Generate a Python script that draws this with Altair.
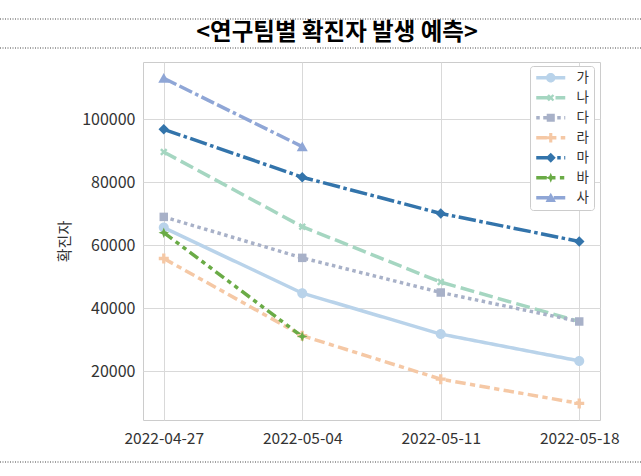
import altair as alt
import pandas as pd
import math

dates = ["2022-04-27", "2022-05-04", "2022-05-11", "2022-05-18"]
day_offsets = [0, 7, 14, 21]
teams = ["가", "나", "다", "라", "마", "바", "사"]
values = {
    "가": [65600, 44800, 31800, 23300],
    "나": [89600, 65900, 48300, 35800],
    "다": [69000, 56000, 45000, 35800],
    "라": [55800, 31300, 17500, 9800],
    "마": [96800, 81600, 70100, 61200],
    "바": [64000, 31000, None, None],
    "사": [113000, 91300, None, None],
}
colors = ["#b9d3ea", "#a5d6c1", "#a8b1c8", "#f5c8a5", "#3374ab", "#6aab46", "#8fa6d6"]
lw = 3.5
base_dashes = [[1, 0], [4, 1.5], [1, 1], [3, 1.25, 1.5, 1.25], [5, 1, 1, 1],
               [3, 1.25, 1.25, 1.25, 1.25, 1.25], [4, 1, 4, 1, 1, 1]]
dashes = [[d * lw for d in ds] for ds in base_dashes]

marker_paths = [
    "M-1,0A1,1,0,1,1,1,0A1,1,0,1,1,-1,0Z",
    "M-0.4,-0.75L0,-0.35L0.4,-0.75L0.75,-0.4L0.35,0L0.75,0.4L0.4,0.75L0,0.35L-0.4,0.75L-0.75,0.4L-0.35,0L-0.75,-0.4Z",
    "M-0.85,-0.85H0.85V0.85H-0.85Z",
    "M-0.33,-1H0.33V-0.33H1V0.33H0.33V1H-0.33V0.33H-1V-0.33H-0.33Z",
    "M0,-1.05L1.05,0L0,1.05L-1.05,0Z",
    "M0,-1.05L0.3,-0.3L1.05,0L0.3,0.3L0,1.05L-0.3,0.3L-1.05,0L-0.3,-0.3Z",
    "M0,-1.05L1.1,0.9H-1.1Z",
]

# legend symbols: a short dashed line segment plus the marker (unit = sqrt(size)/2 px)
leg_size = 90
unit = math.sqrt(leg_size) / 2
half_len = 14.5 / unit
half_w = (lw / 2) / unit


def line_path(pattern, solid):
    if solid:
        return f"M{-half_len:.3f},{-half_w:.3f}H{half_len:.3f}V{half_w:.3f}H{-half_len:.3f}Z"
    parts = []
    x = -half_len
    i = 0
    pat = [p / unit for p in pattern]
    while x < half_len:
        seg = pat[i % len(pat)]
        if i % 2 == 0:
            x2 = min(x + seg, half_len)
            parts.append(f"M{x:.3f},{-half_w:.3f}H{x2:.3f}V{half_w:.3f}H{x:.3f}Z")
        x += seg
        i += 1
    return "".join(parts)


legend_paths = [line_path(ds, ds[1] == 0) + mp for ds, mp in zip(dashes, marker_paths)]

rows = []
for t in teams:
    for d, off, v in zip(dates, day_offsets, values[t]):
        if v is not None:
            rows.append({"team": t, "date": d, "day": off, "cases": v})
df = pd.DataFrame(rows)

label_expr = "[" + ",".join(f"'{d}'" for d in dates) + "][datum.value/7]"
xenc = alt.X("day:Q", scale=alt.Scale(domain=[-1.05, 22.05], nice=False, zero=False),
             axis=alt.Axis(values=day_offsets, labelExpr=label_expr, title=None,
                           grid=True, ticks=False, domain=False, labelPadding=11))
yenc = alt.Y("cases:Q", scale=alt.Scale(domain=[4535, 118165], nice=False, zero=False),
             axis=alt.Axis(values=[20000, 40000, 60000, 80000, 100000], format="d",
                           title="확진자", titlePadding=9, grid=True, ticks=False,
                           domain=False, labelPadding=8, labelFontSize=16))
cscale = alt.Scale(domain=teams, range=colors)

legend = alt.Legend(
    orient="none", legendX=387, legendY=4, fillColor="white", strokeColor="#cccccc",
    cornerRadius=3, padding=5, labelFontSize=13.5, labelColor="#333333",
    symbolSize=leg_size, rowPadding=5, symbolOffset=9, labelOffset=19,
    symbolOpacity=1, symbolStrokeWidth=0,
)

lines = alt.Chart(df).mark_line(strokeWidth=lw).encode(
    x=xenc, y=yenc,
    color=alt.Color("team:N", scale=cscale, title=None, legend=legend),
    strokeDash=alt.StrokeDash("team:N", scale=alt.Scale(domain=teams, range=dashes), legend=None),
    detail="team:N",
)

legend_src = alt.Chart(df).mark_point(filled=True, opacity=0).encode(
    x=xenc, y=yenc,
    color=alt.Color("team:N", scale=cscale, title=None, legend=legend),
    shape=alt.Shape("team:N", scale=alt.Scale(domain=teams, range=legend_paths),
                    title=None, legend=legend),
)

point_layers = []
for t, mp in zip(teams, marker_paths):
    point_layers.append(
        alt.Chart(df).transform_filter(alt.datum.team == t).mark_point(
            filled=True, size=100, opacity=1, shape=mp).encode(
            x=xenc, y=yenc,
            color=alt.Color("team:N", scale=cscale, title=None, legend=legend),
        )
    )


def deco_rule(ypix):
    return alt.Chart(pd.DataFrame({"k": [0]})).mark_rule(
        color="#444444", strokeDash=[1, 1.5], strokeWidth=1).encode(
        x=alt.value(-143), x2=alt.value(498), y=alt.value(ypix))


title = alt.Chart(pd.DataFrame({"t": ["<연구팀별 확진자 발생 예측>"]})).mark_text(
    font="Noto Sans CJK KR", fontSize=23.5, fontWeight="bold", color="#000000",
    align="center", baseline="middle").encode(
    text="t:N", x=alt.value(194), y=alt.value(-29))

chart = alt.layer(lines, legend_src, *point_layers,
                  deco_rule(-43), deco_rule(-14), deco_rule(400), title).properties(
    width=457, height=358,
    autosize=alt.AutoSizeParams(type="none"),
    padding={"left": 143, "top": 62, "right": 41, "bottom": 56},
    background="white",
).configure_view(stroke="#cccccc", strokeWidth=1).configure_axis(
    labelFont="Noto Sans CJK KR", labelFontSize=15.5, labelColor="#333333",
    titleFont="Noto Sans CJK KR", titleFontSize=15, titleColor="#333333",
    titleFontWeight="normal", gridColor="#d9d9d9", gridWidth=1,
).configure_legend(labelFont="Noto Sans CJK KR")

chart.save("out.html", embed_options={"renderer": "svg", "actions": False})
